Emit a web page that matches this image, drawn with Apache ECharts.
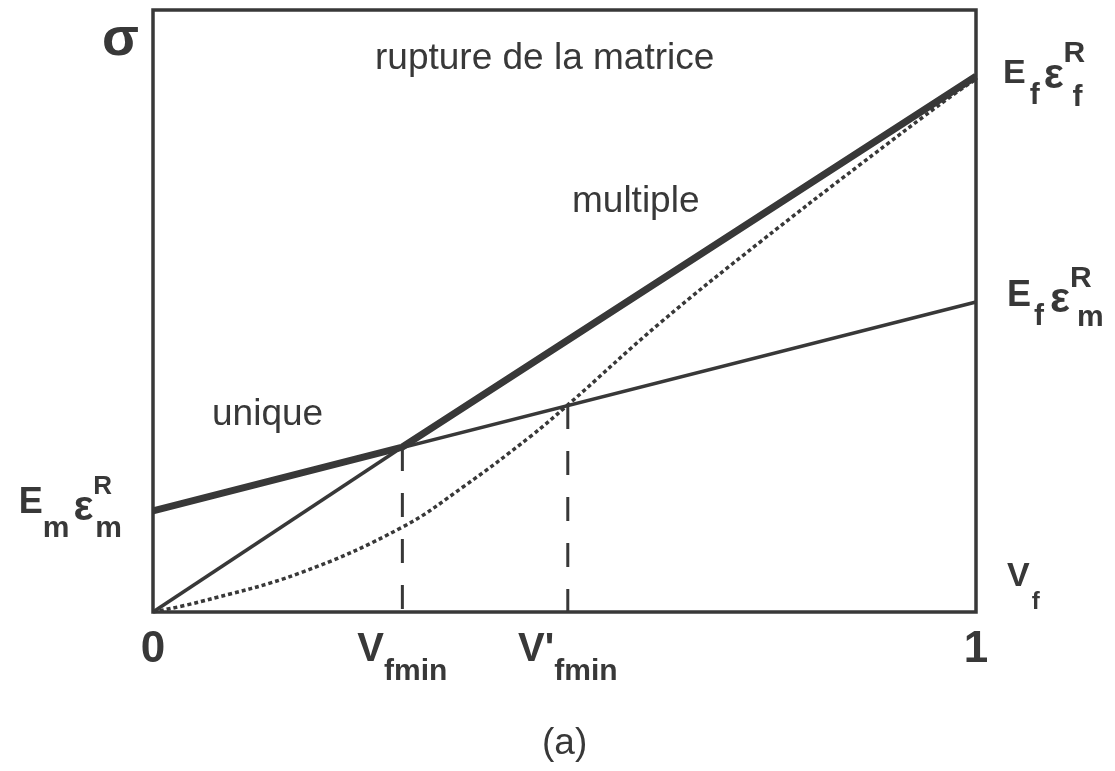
<!DOCTYPE html>
<html>
<head>
<meta charset="utf-8">
<title>rupture de la matrice</title>
<script src="https://cdn.jsdelivr.net/npm/echarts@6/dist/echarts.min.js"></script>
<style>
html, body { margin: 0; padding: 0; background: #fff; }
#chart { width: 1115px; height: 771px; }
</style>
</head>
<body>
<div id="chart"></div>
<script>
// abscisse : Vf (0..1), ordonnée : sigma (normalisée 0..1)
var vfTicks = [0, 0.303, 0.504, 1];
var vfTickLabels = ['{n|0}', '{v|V}{s|fmin}', "{v|V'}{s|fmin}", '{n|1}'];

var leftTicks = [0.168];
var leftTickLabels = ['{E|E}{ms|m}{ep|ε}{R|R}{ms|m}'];
var rightTicks = [0.89, 0.515];
var rightTickLabels = ['{E|E}{f1|f}{ep|ε}{R|R}{f2|f}', '{E2|E}{f3|f}{ep2|ε}{R2|R}{m3|m}'];

var matrixLine = [[0, 0.168], [1, 0.515]];
var fibreLine = [[0, 0], [0.303, 0.274]];
var envelope = [[0, 0.168], [0.303, 0.274], [1, 0.89]];
var dotX = [0, 0.057, 0.179, 0.303, 0.377, 0.458, 0.504, 0.616, 0.738, 0.859, 0.968, 1];
var dotY = [0, 0.017, 0.065, 0.141, 0.208, 0.291, 0.344, 0.48, 0.615, 0.743, 0.855, 0.885];
var dropVfmin = [[0.303, 0.274], [0.303, 0]];
var dropVfmin2 = [[0.504, 0.344], [0.504, 0]];

var ink = '#383838';
var font = 'Liberation Sans, Arial, sans-serif';

function tok(size, pad, extra) {
    var o = { fontFamily: font, fontWeight: 'bold', fontSize: size, color: ink, align: 'left', padding: pad };
    for (var k in extra) o[k] = extra[k];
    return o;
}

function pickLabel(ticks, labels) {
    return function (value) {
        for (var i = 0; i < ticks.length; i++) {
            if (Math.abs(ticks[i] - value) < 1e-6) return labels[i];
        }
        return '';
    };
}

var dotted = dotX.map(function (x, i) { return [x, dotY[i]]; });

var chart = echarts.init(document.getElementById('chart'));

chart.setOption({
    backgroundColor: '#fff',
    animation: false,
    grid: {
        left: 153, right: 139, top: 10, bottom: 159,
        show: true, borderColor: ink, borderWidth: 3.5
    },
    xAxis: {
        type: 'value', min: 0, max: 1,
        axisLine: { show: false },
        axisTick: { show: false },
        splitLine: { show: false },
        axisLabel: {
            customValues: vfTicks,
            margin: 13,
            formatter: pickLabel(vfTicks, vfTickLabels),
            rich: {
                n: tok(44, [0, 0, 0, 0], { lineHeight: 50 }),
                v: tok(40, [0, 0, 0, 0], { lineHeight: 50 }),
                s: tok(30, [44, 0, 0, 0], { lineHeight: 50 })
            }
        },
        name: '{V|V}{f|f}',
        nameLocation: 'end',
        nameGap: 31,
        nameTextStyle: {
            rich: {
                V: tok(34, [0, 0, 70, 0]),
                f: tok(24, [0, 0, 19, 2])
            }
        }
    },
    yAxis: [{
        type: 'value', min: 0, max: 1, position: 'left',
        axisLine: { show: false },
        axisTick: { show: false },
        splitLine: { show: false },
        axisLabel: {
            customValues: leftTicks,
            margin: 31,
            formatter: pickLabel(leftTicks, leftTickLabels),
            rich: {
                E: tok(36, [0, 0, 15, 0]),
                ms: tok(30, [36, 0, 0, 0]),
                ep: tok(42, [0, 0, 4, 4]),
                R: tok(26, [0, 0, 48, 0], { width: 2 })
            }
        },
        name: 'σ',
        nameLocation: 'end',
        nameGap: -3,
        nameTextStyle: {
            fontFamily: font, fontWeight: 'bold', fontSize: 54, lineHeight: 54,
            color: ink, align: 'right', verticalAlign: 'top', padding: [0, 14, 0, 0]
        }
    }, {
        type: 'value', min: 0, max: 1, position: 'right',
        axisLine: { show: false },
        axisTick: { show: false },
        splitLine: { show: false },
        axisLabel: {
            customValues: rightTicks,
            margin: 27,
            formatter: pickLabel(rightTicks, rightTickLabels),
            rich: {
                E: tok(34, [0, 0, 5, 0]),
                f1: tok(30, [40, 0, 0, 4]),
                ep: tok(42, [0, 0, 0, 4]),
                R: tok(30, [0, 0, 44, 0], { width: 9 }),
                f2: tok(30, [44, 0, 0, 0]),
                E2: tok(36, [0, 0, 11, 4]),
                f3: tok(30, [29, 0, 0, 3]),
                ep2: tok(42, [0, 0, 4, 6]),
                R2: tok(30, [0, 0, 46, 0], { width: 7 }),
                m3: tok(30, [31, 0, 0, 0])
            }
        }
    }],
    graphic: [
        { type: 'text', x: 375, y: 59, style: { text: 'rupture de la matrice', font: '37px ' + font, fill: ink, textVerticalAlign: 'middle' } },
        { type: 'text', x: 572, y: 202, style: { text: 'multiple', font: '37px ' + font, fill: ink, textVerticalAlign: 'middle' } },
        { type: 'text', x: 212, y: 415, style: { text: 'unique', font: '37px ' + font, fill: ink, textVerticalAlign: 'middle' } },
        { type: 'text', x: 542, y: 744, style: { text: '(a)', font: '37px ' + font, fill: ink, textVerticalAlign: 'middle' } }
    ],
    series: [
        {
            name: 'matrice', type: 'line', data: matrixLine, symbol: 'none', silent: true,
            lineStyle: { color: ink, width: 3.5 }, z: 3
        },
        {
            name: 'fibres', type: 'line', data: fibreLine, symbol: 'none', silent: true,
            lineStyle: { color: ink, width: 3.5 }, z: 3
        },
        {
            name: 'courbe', type: 'line', data: dotted, symbol: 'none', silent: true, smooth: 0.4,
            lineStyle: { color: ink, width: 3.5, type: [4, 3] }, z: 2
        },
        {
            name: 'Vfmin', type: 'line', data: dropVfmin, symbol: 'none', silent: true,
            lineStyle: { color: ink, width: 3, type: [24, 22] }, z: 2
        },
        {
            name: "V'fmin", type: 'line', data: dropVfmin2, symbol: 'none', silent: true,
            lineStyle: { color: ink, width: 3, type: [24, 22] }, z: 2
        },
        {
            name: 'enveloppe', type: 'line', data: envelope, symbol: 'none', silent: true,
            lineStyle: { color: ink, width: 7 }, z: 4
        }
    ]
});
</script>
</body>
</html>
